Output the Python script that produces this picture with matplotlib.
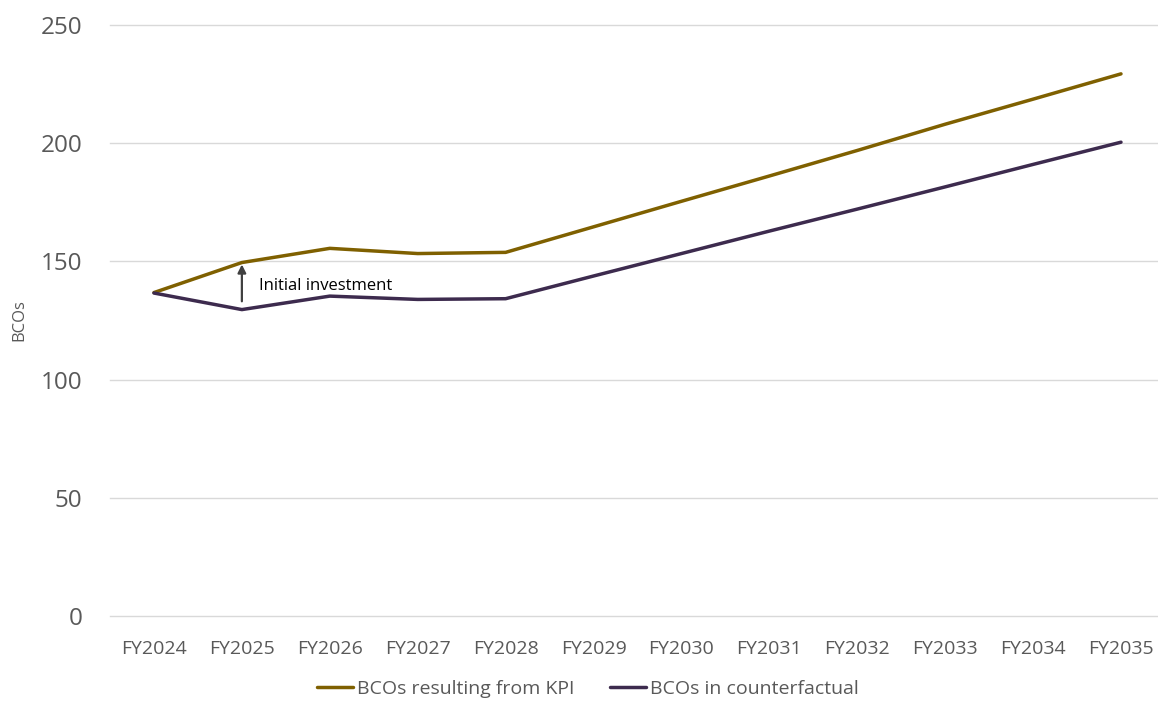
import matplotlib.pyplot as plt

plt.rcParams["font.family"] = ["Open Sans", "DejaVu Sans"]

years = ["FY2024", "FY2025", "FY2026", "FY2027", "FY2028", "FY2029",
         "FY2030", "FY2031", "FY2032", "FY2033", "FY2034", "FY2035"]
bcos_kpi = [136.8, 149.5, 155.5, 153.3, 153.8, 164.6,
            175.4, 186.1, 196.9, 208.0, 218.6, 229.3]
bcos_counterfactual = [136.6, 129.6, 135.3, 133.9, 134.2, 143.8,
                       153.3, 162.8, 172.1, 181.5, 191.0, 200.4]
yticks = [0, 50, 100, 150, 200, 250]

gold = "#7F6000"
purple = "#3D2B4E"
grey_text = "#595959"

fig = plt.figure(figsize=(11.58, 7.02), dpi=100)
ax = fig.add_axes([0.095, 0.1225, 0.911, 0.842])

x = list(range(len(years)))
ax.plot(x, bcos_kpi, color=gold, lw=2.5, solid_capstyle="round",
        solid_joinstyle="round", label="BCOs resulting from KPI", zorder=3)
ax.plot(x, bcos_counterfactual, color=purple, lw=2.5, solid_capstyle="round",
        solid_joinstyle="round", label="BCOs in counterfactual", zorder=3)

# arrow showing the gap opened in the first year
ax.annotate("", xy=(1, bcos_kpi[1] - 0.8), xytext=(1, bcos_counterfactual[1] + 3.5),
            arrowprops=dict(arrowstyle="-|>", color="#404040", lw=1.6,
                            mutation_scale=12, shrinkA=0, shrinkB=0))
ax.text(1.2, 139.6, "Initial investment", fontsize=12, color="black",
        va="center", ha="left")

ax.set_xlim(-0.5, len(years) - 0.5)
ax.set_ylim(0, 250)
ax.set_yticks(yticks)
ax.set_xticks(x)
ax.set_xticklabels(years)
ax.tick_params(axis="y", length=0, labelsize=17.5, labelcolor=grey_text, pad=20)
ax.tick_params(axis="x", length=0, labelsize=14, labelcolor=grey_text, pad=17)
ax.grid(axis="y", color="#D9D9D9", lw=1)
for gl in ax.get_ygridlines():
    gl.set_clip_on(False)
ax.set_axisbelow(True)
for s in ax.spines.values():
    s.set_visible(False)
ax.set_ylabel("BCOs", fontsize=12, color=grey_text)
ax.yaxis.set_label_coords(-0.0787, 0.5)

ax.legend(loc="center", bbox_to_anchor=(0.453, -0.1235), ncol=2,
          frameon=False, fontsize=14, handlelength=1.85, handletextpad=0.2,
          columnspacing=1.85, labelcolor=grey_text)

fig.savefig("out.png", dpi=100)
